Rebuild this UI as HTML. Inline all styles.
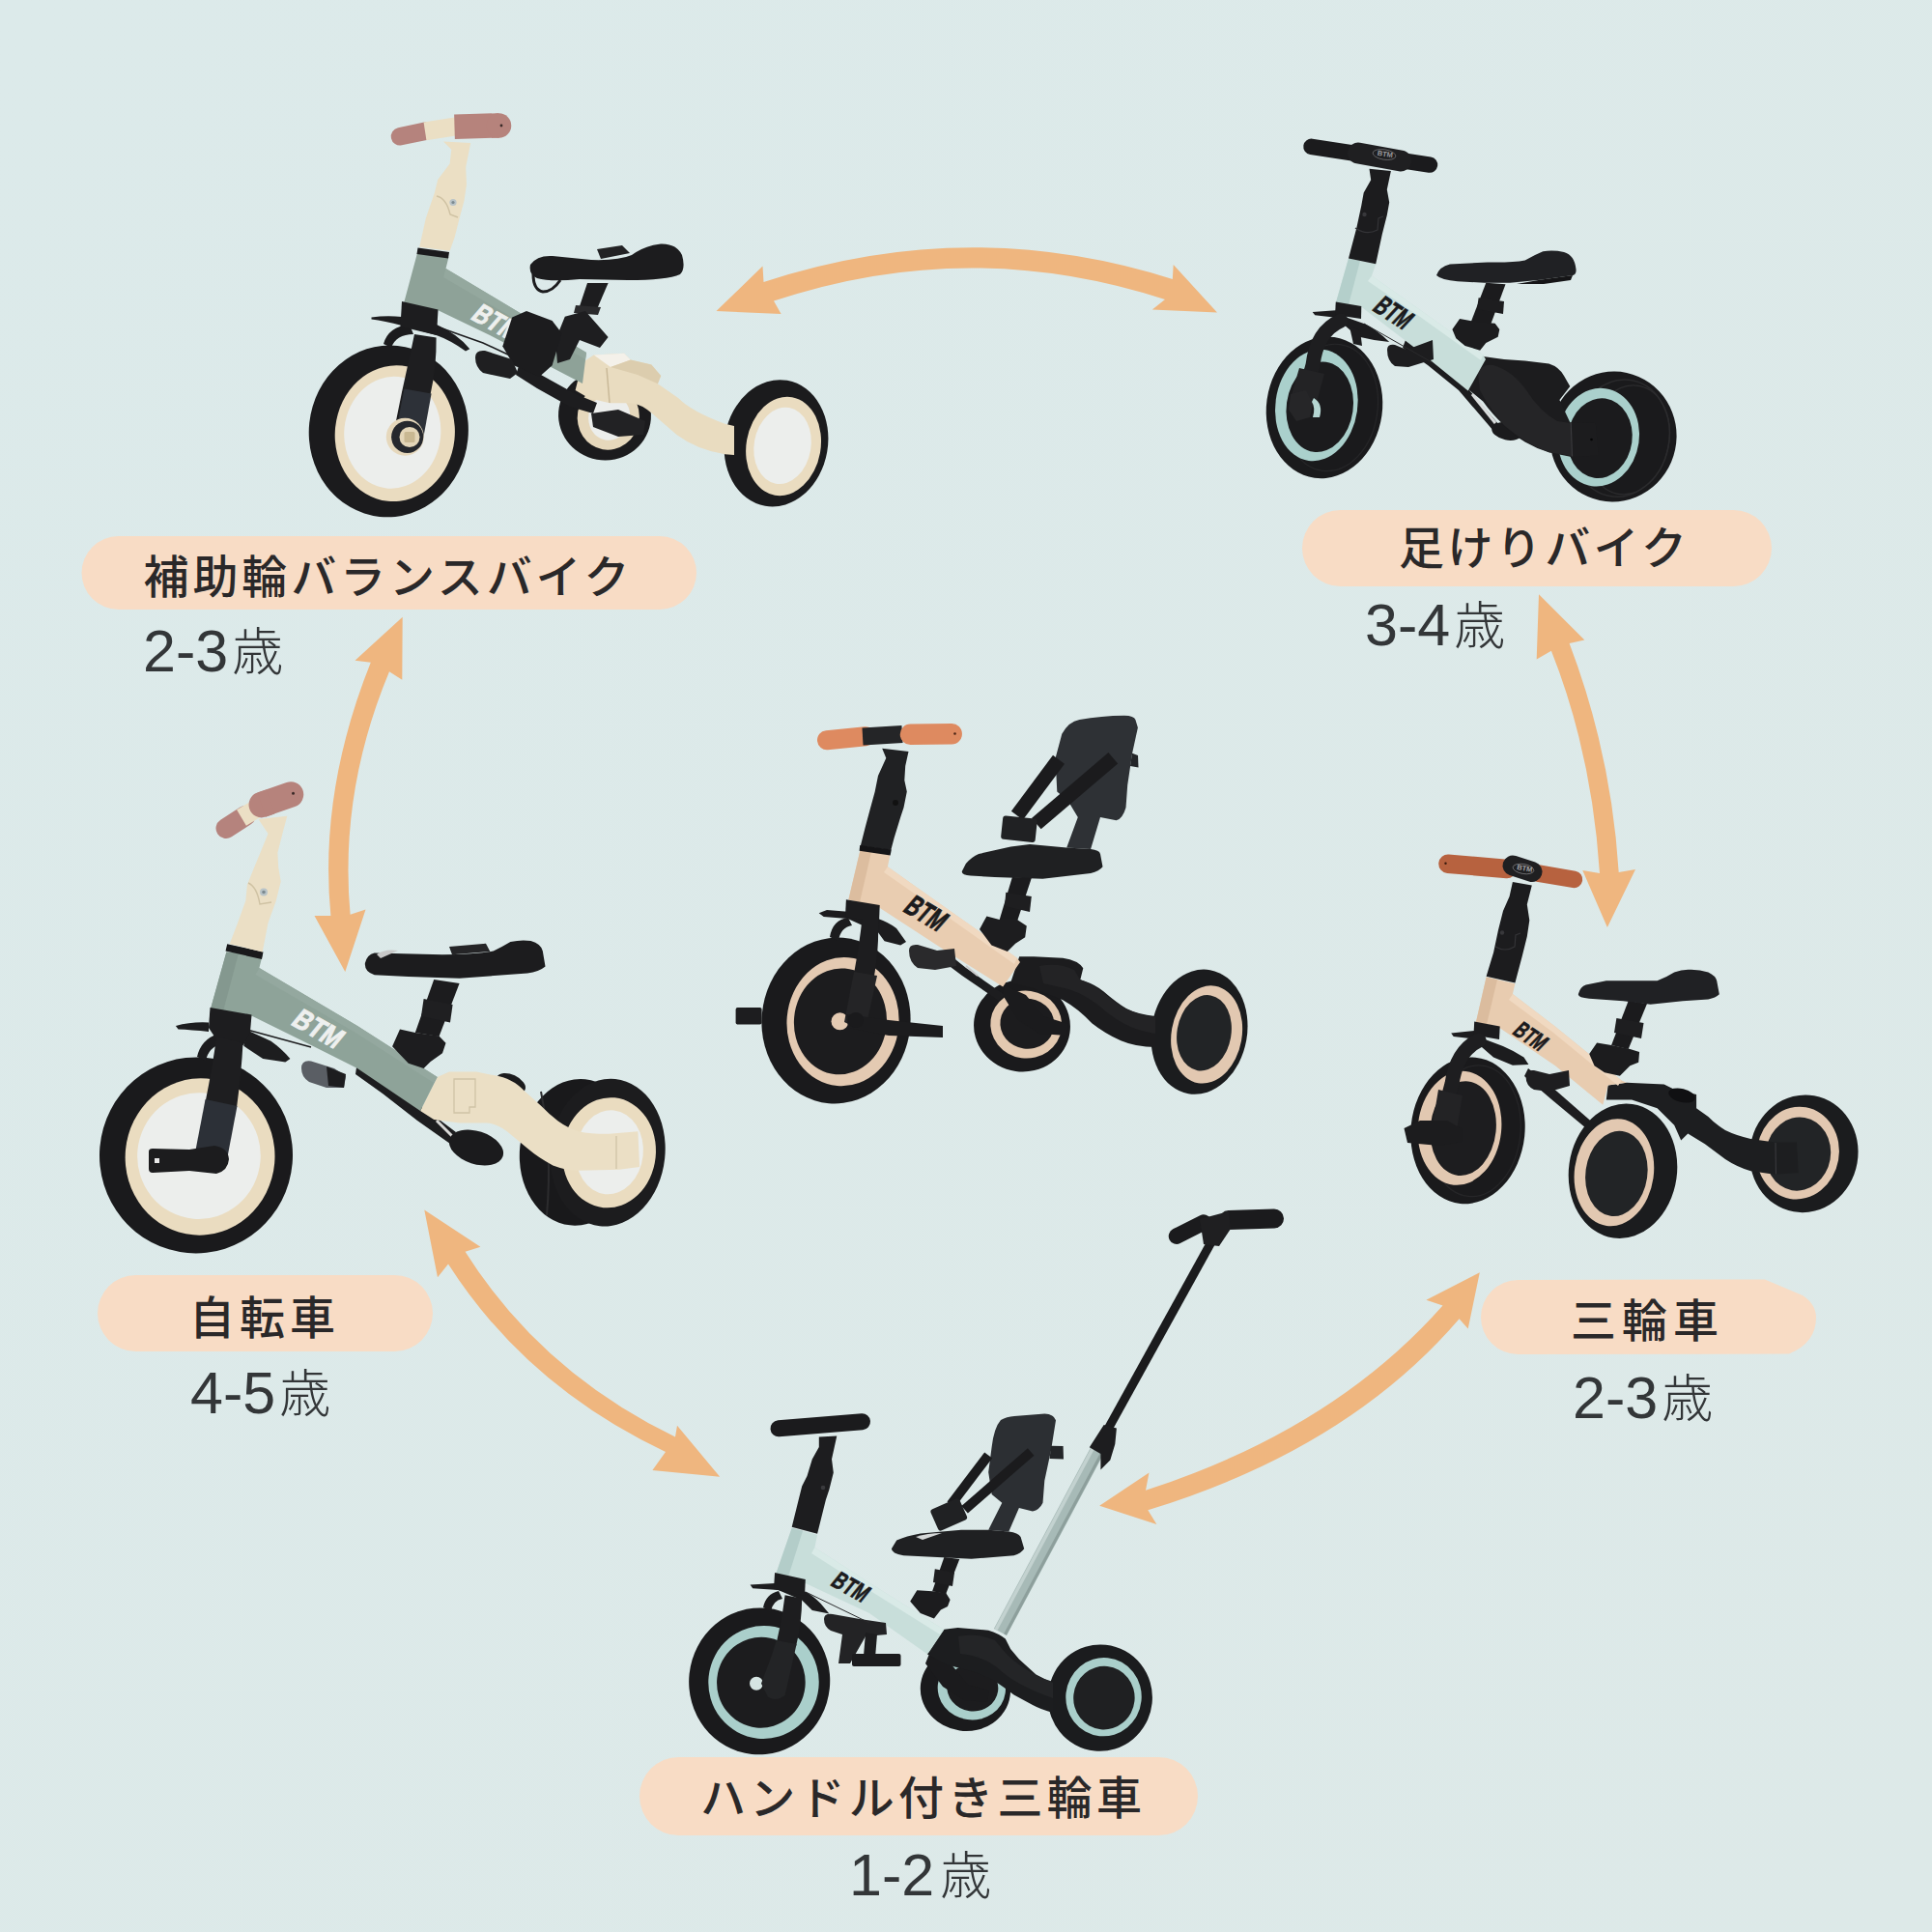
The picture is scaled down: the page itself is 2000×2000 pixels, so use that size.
<!DOCTYPE html>
<html lang="ja">
<head>
<meta charset="utf-8">
<title>BTM 5in1 三輪車</title>
<style>
html,body{margin:0;padding:0;background:#dce9e9;}
body{width:2000px;height:2000px;overflow:hidden;position:relative;font-family:"Liberation Sans","Noto Sans CJK JP",sans-serif;}
svg{position:absolute;left:0;top:0;display:block;}
.lbl{font-family:"Liberation Sans","Noto Sans CJK JP",sans-serif;font-weight:500;font-size:47px;fill:#2a2829;}
.age{font-family:"Liberation Sans","Noto Sans CJK JP",sans-serif;font-weight:300;font-size:53px;fill:#333638;}
.num{font-family:"Liberation Sans",sans-serif;font-weight:400;font-size:61px;}
.btm{font-family:"Liberation Sans",sans-serif;font-weight:700;}
</style>
</head>
<body>
<svg xmlns="http://www.w3.org/2000/svg" width="2000" height="2000" viewBox="0 0 2000 2000">
<defs>
<linearGradient id="bg" x1="0" y1="0" x2="1" y2="1">
<stop offset="0" stop-color="#dceaea"/><stop offset="1" stop-color="#dde9e8"/>
</linearGradient>
</defs>
<rect width="2000" height="2000" fill="url(#bg)"/>
<!-- ARROWS -->
<g id="arrows" fill="#efb67f">
<path d="M741.5 322 L789.5 275.5 L790.5 292 Q1003 222 1213.8 289 L1214.7 274 L1260 323.6 L1192.8 320.6 L1206 310 Q1003 244 801 311.6 L808.6 325 Z"/>
<path d="M416.7 638.7 L367.5 683.7 L383.8 685.8 Q330 820 342.4 947.9 L325.5 947.9 L357.3 1006 L378.5 941.5 L362.6 946.8 Q351 820 403 695.3 L416.3 703.8 Z"/>
<path d="M1593 615.3 L1640.3 662.5 L1624.6 665.9 Q1668 780 1675.7 902.9 L1693 900 L1663.9 960 L1638.3 900.9 L1656 903.9 Q1648 780 1605.9 673.8 L1590.7 682.6 Z"/>
<path d="M439.3 1252.5 L497.4 1290.8 L481.6 1295.7 Q560 1420 699 1487.5 L701 1475.7 L745.2 1528.8 L675.4 1522 L689 1503 Q545 1435 464 1308.5 L453 1322.3 Z"/>
<path d="M1531.8 1317.3 L1476.4 1345.8 L1493.5 1351.5 Q1380 1480 1186 1542.8 L1189.5 1524.6 L1138.2 1558.7 L1197.4 1578 L1188.3 1563.3 Q1395 1500 1510.6 1365.2 L1519.7 1375.4 Z"/>
</g>

<!-- LABEL PILLS -->
<g id="pills" fill="#f8dcc5">
<rect x="84.5" y="555" width="636.5" height="76" rx="38"/>
<rect x="1348" y="528" width="486" height="79" rx="39.5"/>
<rect x="101" y="1320" width="347" height="79" rx="39.5"/>
<path d="M1571.5 1325 L1827 1324.5 L1866 1341 Q1880 1350 1880 1364 Q1880 1390 1852 1401.5 L1571.5 1402 A38.5 38.5 0 0 1 1571.5 1325 Z"/>
<rect x="662" y="1819" width="578" height="81" rx="40.5"/>
</g>
<g id="labels">
<text class="lbl" x="148.5" y="613.5" textLength="503" lengthAdjust="spacing">補助輪バランスバイク</text>
<text class="age" x="148" y="694.5"><tspan class="num">2-3</tspan><tspan dx="4" dy="-1">歳</tspan></text>
<text class="lbl" x="1448" y="583.5" textLength="298" lengthAdjust="spacing">足けりバイク</text>
<text class="age" x="1413" y="667.5"><tspan class="num">3-4</tspan><tspan dx="4" dy="-1">歳</tspan></text>
<text class="lbl" x="196" y="1381" textLength="151" lengthAdjust="spacing">自転車</text>
<text class="age" x="197" y="1463"><tspan class="num">4-5</tspan><tspan dx="4" dy="-1">歳</tspan></text>
<text class="lbl" x="1626" y="1384" textLength="153" lengthAdjust="spacing">三輪車</text>
<text class="age" x="1628" y="1467.5"><tspan class="num">2-3</tspan><tspan dx="4" dy="-1">歳</tspan></text>
<text class="lbl" x="725" y="1878" textLength="457" lengthAdjust="spacing">ハンドル付き三輪車</text>
<text class="age" x="879" y="1961.5"><tspan class="num">1-2</tspan><tspan dx="6" dy="-1">歳</tspan></text>
</g>

<!-- BIKE 1 : green/cream with training wheels -->
<g id="bike1">
<!-- middle (far) rear wheel -->
<g transform="rotate(10 626 430)">
<ellipse cx="626" cy="430" rx="48" ry="46.5" fill="#1b1b1d"/>
<ellipse cx="630" cy="431" rx="32" ry="34" fill="#e6d8bc"/>
<ellipse cx="631" cy="431" rx="21.5" ry="24" fill="#eceeec"/>
</g>
<!-- rear right wheel -->
<g transform="rotate(10 803.5 458.8)">
<ellipse cx="803.5" cy="458.8" rx="53.5" ry="66" fill="#1b1b1d"/>
<ellipse cx="811.5" cy="460.6" rx="38.5" ry="51.5" fill="#eadcc0"/>
<ellipse cx="810.4" cy="460.2" rx="29.4" ry="40" fill="#eceeec"/>
</g>
<!-- under-frame bar & far pedal -->
<path d="M538 376 L560 388 L596 408 L618 417 L614 428 L590 421 L556 402 L534 388 Z" fill="#1d1d1f"/>
<path d="M612 428 L640 424 L668 436 L666 450 L640 452 L614 442 Z" fill="#222224"/>
<!-- cream rear junction + arm -->
<path d="M604.7 374.1 L614.7 367.5 L646.1 365.8 L652.8 372.4 L674.3 377.4 L684.2 389 L680.9 397.3 L702.4 412.2 Q716 426 750.5 438.7 L760 441 L760 471 L750.5 470.2 Q722 466 700.8 450.3 L675.9 428.8 Q664 418 652.8 417.2 L631.2 417.2 L609.7 412.2 L595.6 403.9 L599.8 387.3 Z" fill="#e9dcc0"/>
<path d="M614.7 367.5 L646.1 365.8 L652.8 372.4 L632 380 Z" fill="#f4f1ea"/>
<path d="M632 380 L652.8 372.4 L674.3 377.4 L684.2 389 L680.9 397.3 L660 388 Z" fill="#dccdae"/>
<path d="M628 381 L631 417" stroke="#c9b998" stroke-width="1.5" fill="none"/>
<!-- main frame -->
<path d="M432 262 L464.5 266 L461.5 278 L540 325 L607 365 L603 397 L507 347 L453 321 L418 314 Z" fill="#8ea298"/>
<path d="M461.5 278 L540 325 L607 365 L606 372 L538 333 L459 287 Z" fill="#94a89e"/>
<path d="M432.5 256.5 L465 261 L464 267.5 L431.5 263 Z" fill="#1b1b1d"/>
<text class="btm" transform="translate(486 329.5) rotate(29) skewX(-12)" font-size="29" fill="#eef0ee" stroke="#eef0ee" stroke-width=".9" textLength="50" lengthAdjust="spacingAndGlyphs">BTM</text>
<!-- stem (cream) -->
<path d="M459 146.4 L487.2 148 L482.2 172.9 L483 191 L480.5 207.7 L475.6 225.9 L470.6 245.7 L465.6 259.8 L434.2 255.7 L440.8 225.9 L449.9 199.4 L453.2 186.1 L465.6 169.6 L467.3 154.7 Z" fill="#ebdfc4"/>
<circle cx="469" cy="209.5" r="3.6" fill="#b9c4c8"/>
<circle cx="469" cy="209.5" r="1.6" fill="#7c8a90"/>
<path d="M452 203 Q462 205 466 222 L474 225" stroke="#cfc2a3" stroke-width="1.4" fill="none"/>
<!-- handlebar -->
<path d="M414 141.3 L441 135.6" stroke="#b5837d" stroke-width="18.5" stroke-linecap="round" fill="none"/>
<path d="M440 135.8 L472 130.9" stroke="#ebdfc4" stroke-width="19" fill="none"/>
<path d="M470.5 131.2 L516.5 129.9" stroke="#b6837c" stroke-width="25.5" fill="none"/>
<circle cx="516.5" cy="129.9" r="12.75" fill="#b6837c"/>
<circle cx="519" cy="130" r="1.4" fill="#3a2a28"/>
<!-- front wheel -->
<g transform="rotate(6 402.3 446.4)">
<ellipse cx="402.3" cy="446.4" rx="82.5" ry="89" fill="#1b1b1d"/>
<ellipse cx="409" cy="448" rx="62" ry="70.5" fill="#eadcc0"/>
<ellipse cx="406.4" cy="447.3" rx="50" ry="58" fill="#eceeec"/>
</g>
<!-- fork back blade -->
<path d="M397 356 Q402 338 424 336 L428 346 Q410 346 405 360 Z" fill="#1b1b1d"/>
<!-- fender -->
<path d="M384.5 328.6 Q400 326 416 328 L452 336 Q474 346 486.3 361.2 L482 363.5 Q466 352 451.6 347 L416 337 Q398 332 384.5 330.5 Z" fill="#1d1d1f"/>
<!-- cable -->
<path d="M452 338 L500 355 L528 368" stroke="#1d1d1f" stroke-width="1.6" fill="none"/>
<!-- fork crown -->
<path d="M416 312 L453.5 320.5 L452 347 L414.5 338 Z" fill="#1d1d1f"/>
<!-- fork front blade -->
<path d="M429 346 L451.6 349.6 Q452 380 446 405.9 L438.3 445.6 L408 445.6 L416 405.9 Q424 370 429 346 Z" fill="#1e1e20"/>
<path d="M418.4 402.6 L446.6 407.5 L438.5 452 L409 452 Z" fill="#2d3138"/>
<!-- hub -->
<circle cx="419.3" cy="452.3" r="19.5" fill="#e6d8bc"/>
<circle cx="421.7" cy="452.3" r="16.6" fill="#26282d"/>
<circle cx="424" cy="452.5" r="10.5" fill="#e4d6b8"/>
<rect x="418.5" y="447" width="11" height="11" rx="1.5" fill="#c9b892"/>
<!-- seat post & clamp -->
<path d="M608 293 L629.6 293 L616.3 324 L598 323 Z" fill="#1d1d1f"/>
<path d="M596 316 L622 318 L619 326 L594 324 Z" fill="#2a2a2c"/>
<path d="M584.8 327.7 L606 322 L629.6 349 L621 360 L600 352 L590 372 L577 376 L575 352 Z" fill="#1e1e20"/>
<!-- folded pedal -->
<path d="M530.2 328.6 L545 322 L571.6 331.9 L581.6 345 L571.6 378.3 L558.4 389.9 L531.9 378.3 L520.3 358.4 Z" fill="#1c1c1e"/>
<path d="M492 370 Q492 362 502 363 L530 372 L536 386 L528 392 L500 386 Q492 380 492 370 Z" fill="#1f1f21"/>
<!-- saddle -->
<path d="M549 274 Q556 264 572 265 L612 269 Q640 270 654 264 Q668 254 684 252.5 Q700 252 706 264 Q710 278 704 284 Q690 290 650 290 L600 289 Q570 292 556 288 Q547 284 549 274 Z" fill="#1c1c1e"/>
<path d="M552 284 Q552 300 562 302 Q572 302 580 290" stroke="#1c1c1e" stroke-width="3" fill="none"/>
<path d="M618 258 L644 254 L652 262 L622 268 Z" fill="#222224"/>
</g>

<!-- BIKE 2 : black/mint balance bike -->
<g id="bike2">
<!-- rear wheel -->
<g transform="rotate(12 1670 452)">
<ellipse cx="1670" cy="452" rx="65.5" ry="67.5" fill="#1a1a1c"/>
<ellipse cx="1678" cy="452" rx="50" ry="61" fill="none" stroke="#2a2a2c" stroke-width="1.5"/>
<ellipse cx="1686" cy="452" rx="42" ry="57" fill="none" stroke="#2c2c2e" stroke-width="1.2"/>
</g>
<g transform="rotate(8 1655 453)">
<ellipse cx="1654.8" cy="452.7" rx="42" ry="51" fill="#aad0cc"/>
<ellipse cx="1656.3" cy="453.5" rx="33.4" ry="41.5" fill="#1b1b1d"/>
</g>
<!-- under rod + foot -->
<path d="M1455 352 L1482 372 L1516 398 L1552 440 L1546 446 L1510 404 L1478 378 L1452 360 Z" fill="#1c1c1e"/>
<path d="M1524 408 L1548 438" stroke="#d9dcdc" stroke-width="3" fill="none"/>
<ellipse cx="1560" cy="446.5" rx="16" ry="9" transform="rotate(12 1560 446.5)" fill="#1b1b1d"/>
<!-- rear arm / junction -->
<path d="M1521.2 372 L1535.2 368.9 L1557 372 L1578.7 373.5 L1603.5 376.6 Q1614 380 1619 389.1 L1625.3 400 L1614.4 413.9 L1625.3 437.2 L1651.7 438 L1654.8 471.4 L1626.8 472.9 L1603.5 468.3 Q1590 464 1578.7 457.4 Q1566 450 1557 440.3 Q1544 428 1535.2 415.5 L1518.1 401.5 Z" fill="#1c1c1e"/>
<path d="M1530 386 Q1534 376 1546 378 Q1566 384 1580 404 Q1594 426 1612 436 L1626 438 L1627 472 L1603.5 468.3 Q1580 460 1557 440.3 Q1540 420 1532 404 Z" fill="#252527"/>
<path d="M1626.2 437.5 L1627.5 472.6" stroke="#3a3a3d" stroke-width="1.2" fill="none"/>
<circle cx="1647.5" cy="455" r="1.3" fill="#050505"/>
<!-- frame -->
<path d="M1396 267.4 L1424.2 273.2 L1420 285.6 L1470 320.7 L1535.2 367.3 L1538 372 L1519.7 404.6 L1470 364.2 L1408.4 317.1 L1382.8 313.8 Z" fill="#c8deda"/>
<path d="M1396 267.4 L1408 270 L1396 315.5 L1382.8 313.8 Z" fill="#b4cfcb"/>
<path d="M1420 285.6 L1470 320.7 L1535.2 367.3 L1533 373 L1468 326.5 L1416 291 Z" fill="#d9eae7"/>
<text class="btm" transform="translate(1419.5 320.5) rotate(33) skewX(-10)" font-size="29" fill="#1b1b1d" stroke="#1b1b1d" stroke-width=".8" textLength="39" lengthAdjust="spacingAndGlyphs">BTM</text>
<!-- pedal mount -->
<path d="M1436 362 Q1436 356 1444 357 L1456 362 L1483 352 L1484 372 L1458 380 L1444 379 Q1436 374 1436 362 Z" fill="#1d1d1f"/>
<path d="M1412 335 L1482 375" stroke="#2a2a2c" stroke-width="1" fill="none"/>
<!-- front wheel -->
<g transform="rotate(8 1371 421.9)">
<ellipse cx="1371" cy="421.9" rx="60" ry="73.5" fill="#1a1a1c"/>
<ellipse cx="1378" cy="421" rx="48" ry="66" fill="none" stroke="#262628" stroke-width="1.2"/>
<ellipse cx="1362.6" cy="420.7" rx="42.5" ry="58" fill="#aad0cc"/>
<ellipse cx="1366.2" cy="421.9" rx="34.5" ry="47" fill="#1b1b1d"/>
</g>
<!-- fender -->
<path d="M1358.7 322.9 L1382.8 321.2 L1389.4 327 L1412.6 335.3 Q1426 342 1438.2 353.9 L1422.5 351.9 L1405.9 348.6 L1396 340.3 L1382.8 328.7 L1361.2 326.2 Z" fill="#1c1c1e"/>
<path d="M1382.8 312.5 L1409.3 317 L1409 330 L1382 326 Z" fill="#1c1c1e"/>
<!-- fork -->
<path d="M1397 338 L1408 342 L1410 358 L1401 356 Z" fill="#1d1d1f"/>
<path d="M1388 332 Q1363 343 1359 378 L1351 408" stroke="#1e1e20" stroke-width="15" fill="none" stroke-linecap="round"/>
<path d="M1345 381 L1371 387 L1362 420 L1336 412 Z" fill="#232325"/>
<path d="M1336 408 L1352 404 L1359 418 L1356 432 L1342 436 L1334 424 Z" fill="#262628"/>
<path d="M1360 412 Q1370 418 1366 432 L1359 432 Q1362 422 1358 416 Z" fill="#b5d6d2"/>
<!-- stem -->
<path d="M1417.5 174.7 L1439.9 177.1 L1435.8 196.2 L1438.2 209.4 L1435.8 222.7 L1430.8 242.6 L1424.2 273.2 L1396 267.4 L1404.3 235.9 L1409.3 212.8 L1411.7 199.5 L1419.2 186.3 Z" fill="#1c1c1e"/>
<path d="M1403 236 Q1414 244 1426 238 L1427 226 L1432 224" stroke="#343437" stroke-width="1.2" fill="none"/>
<circle cx="1412.5" cy="222" r="2.2" fill="#38383b"/>
<!-- handlebar -->
<path d="M1357.5 151.8 L1480 170.6" stroke="#1b1b1d" stroke-width="16.5" stroke-linecap="round" fill="none"/>
<path d="M1406 158.5 L1450 166.5" stroke="#1f1f21" stroke-width="22" stroke-linecap="round" fill="none"/>
<ellipse cx="1433" cy="160" rx="12" ry="5.2" transform="rotate(9 1433 160)" fill="none" stroke="#6d6d70" stroke-width=".8"/>
<text class="btm" transform="translate(1425.5 160.8) rotate(9)" font-size="7.5" fill="#9a9a9d">BTM</text>
<!-- seat post, clamp -->
<path d="M1538.3 292.8 L1558.5 294.3 L1543 336.3 L1522.8 333.2 Z" fill="#1b1b1d"/>
<path d="M1530.6 308.3 L1557 312 L1556 325 L1529 320 Z" fill="#1d1d1f"/>
<path d="M1503.4 340.9 L1511.1 330.1 L1529 333.2 L1547.6 334.7 L1552.3 340.9 L1550.7 348.7 L1538.3 354.9 L1532.1 362.7 L1516.6 358 L1507.3 350.2 Z" fill="#1c1c1e"/>
<!-- saddle -->
<path d="M1487 285 Q1490 276 1501 273.4 L1540 271.5 Q1566 272 1578.7 269.5 Q1588 264 1597.3 260.2 Q1608 258.5 1619 261 Q1630 264 1631.5 278.8 Q1632 284 1628.4 285 L1594.2 289.7 L1563.2 292.8 L1536.8 292.8 L1508.8 291.2 Q1492 290 1487 285 Z" fill="#202124"/>
<path d="M1594 289.7 L1628 285 L1626 290 L1598 294 L1570 294 Z" fill="#151517"/>
</g>

<!-- BIKE 3 : peach/black trike with backrest -->
<g id="bike3">
<!-- middle rear wheel -->
<g transform="rotate(8 1058 1062)">
<ellipse cx="1058" cy="1062" rx="50" ry="47.5" fill="#1a1a1c"/>
<ellipse cx="1062" cy="1060" rx="37" ry="35" fill="#e3c9b0"/>
<ellipse cx="1063" cy="1059" rx="28" ry="26" fill="#1c1c1e"/>
</g>
<!-- right rear wheel -->
<g transform="rotate(10 1241.5 1068.2)">
<ellipse cx="1241.5" cy="1068.2" rx="49.5" ry="65" fill="#1b1c1e"/>
<ellipse cx="1249.5" cy="1069.6" rx="36.5" ry="51" fill="#e2c8b1"/>
<ellipse cx="1246.6" cy="1068.4" rx="28" ry="39.5" fill="#222426"/>
</g>
<!-- rear pedal -->
<path d="M1040 1020 L1062 1030 L1080 1052 L1106 1060 L1104 1072 L1076 1070 L1054 1056 L1038 1030 Z" fill="#1b1b1d"/>
<!-- rear arm -->
<path d="M1055.2 990.2 L1070.2 990.2 L1100.3 991.7 Q1116 994 1121.3 1002.2 L1118.3 1014.2 Q1132 1018 1142.3 1026.2 Q1156 1038 1166.3 1044.2 Q1178 1050 1196 1052 L1196 1084 Q1176 1084 1160.3 1077.3 Q1144 1070 1130.3 1059.2 Q1116 1044 1100.3 1035.2 L1070.2 1023.2 L1046.2 1017.2 Z" fill="#1c1c1e"/>
<path d="M1076 1000 Q1096 996 1112 1004 L1118 1014 Q1134 1020 1150 1034 Q1170 1050 1196 1053 L1196 1070 Q1168 1066 1146 1048 Q1126 1030 1106 1024 L1080 1018 Z" fill="#232325"/>
<!-- under-frame rod -->
<path d="M985 990 L1000 1002 L1040 1030 L1034 1036 L996 1010 L980 998 Z" fill="#1d1d1f"/>
<path d="M1000 1000 L1012 1010" stroke="#c8c8c8" stroke-width="2" fill="none"/>
<!-- frame -->
<path d="M890.5 879.9 L921.4 884.9 L918.9 897.3 L980 940.4 L1052.9 991.7 L1056 996 L1038.2 1021.5 L980 985 L909 938.7 L878.4 931.2 Z" fill="#e9cdb1"/>
<path d="M890.5 879.9 L902 881.8 L890 934 L878.4 931.2 Z" fill="#dcbd9f"/>
<path d="M918.9 897.3 L980 940.4 L1052.9 991.7 L1050 998 L978 947 L915 903 Z" fill="#f0d9c1"/>
<text class="btm" transform="translate(933.5 942.5) rotate(31) skewX(-10)" font-size="31" fill="#1b1b1d" stroke="#1b1b1d" stroke-width=".9" textLength="43" lengthAdjust="spacingAndGlyphs">BTM</text>
<!-- pedal mount under frame -->
<path d="M941 984 Q941 977 950 978 L970 984 L988 982 L990 1000 L968 1004 L950 1002 Q941 996 941 984 Z" fill="#2a2a2c"/>
<!-- front wheel -->
<g transform="rotate(5 865.5 1056.5)">
<ellipse cx="865.5" cy="1056.5" rx="77" ry="86" fill="#1a1a1c"/>
<ellipse cx="872.6" cy="1057" rx="58" ry="66.7" fill="#e4cab2"/>
<ellipse cx="870" cy="1057" rx="48" ry="55" fill="#1c1c1e"/>
</g>
<circle cx="869.5" cy="1057.3" r="9" fill="#e4cab2"/>
<!-- fender -->
<path d="M847.7 945.3 L856 942 L877.5 943.7 L909 951.1 Q920 955 928 961 L938 975.1 L932.2 978.4 L915.6 974.3 L909 965.2 L877.5 951 L852.7 949 Z" fill="#1c1c1e"/>
<path d="M875.9 931.2 L910.7 937 L910 955 L875 949 Z" fill="#1c1c1e"/>
<!-- fork -->
<path d="M859 970 Q862 952 878 950 L882 958 Q870 960 868 974 Z" fill="#1c1c1e"/>
<path d="M892.4 951.9 L909 951.9 Q910 980 905.7 1006 L898 1050 L876 1056 L884 1008 Q890 975 892.4 951.9 Z" fill="#1d1d1f"/>
<path d="M884 1006 L908 1010 L898 1056 Q888 1066 874 1058 Z" fill="#242426"/>
<!-- cranks & pedals -->
<path d="M876 1050 L920 1056 L976 1062 L976 1074 L920 1072 L878 1064 Z" fill="#1c1c1e"/>
<rect x="761.6" y="1043" width="27" height="17.5" rx="2" fill="#1d1d1f"/>
<circle cx="886" cy="1056" r="8" fill="#1a1a1c"/>
<!-- stem -->
<path d="M913.2 774.7 L940.5 778 L937.2 792.9 L936.3 807.8 L938.8 819.4 L935.5 836 L932.2 845.9 L925.6 867.5 L922.3 879.9 L890.8 875.8 L895.8 855.9 L900.7 837.7 L905.7 819.4 L909 802.9 L917.3 784.7 Z" fill="#202123"/>
<path d="M890.2 875 L922.8 879.4 L921.6 885.4 L889.6 880.8 Z" fill="#141416"/>
<circle cx="927" cy="831" r="3" fill="#111"/>
<!-- handlebar -->
<path d="M856 766.2 L896 762.2" stroke="#de8a60" stroke-width="20" stroke-linecap="round" fill="none"/>
<path d="M893 762.4 L934 759.9" stroke="#242527" stroke-width="18" fill="none"/>
<path d="M942.5 760.3 L985.2 759.8" stroke="#de8a60" stroke-width="21.5" stroke-linecap="round" fill="none"/>
<circle cx="988.5" cy="759.5" r="1.3" fill="#4a2414"/>
<!-- backrest -->
<path d="M1117.5 744.9 Q1140 741 1163.9 740.8 Q1174 741 1175.4 744.9 L1177.9 753.2 L1172.1 779.7 L1167.2 812.8 L1165.5 836 Q1162 848 1155.6 849.3 L1139 845.9 L1129.1 879.1 L1104.2 877.4 L1115.8 845.9 L1105.9 829.4 L1094.3 819.4 L1092.6 784.7 L1099.3 759.8 Q1106 747 1117.5 744.9 Z" fill="#2e3135"/>
<path d="M1172 779.7 L1178 782 L1178.5 794.6 L1170 793 Z" fill="#232528"/>
<path d="M1096 786.3 L1052.9 844.3" stroke="#1b1b1d" stroke-width="15" fill="none"/>
<path d="M1152.3 784.7 L1072.8 852.6" stroke="#1b1b1d" stroke-width="15" fill="none"/>
<rect x="1037.1" y="846" width="35.7" height="24.5" rx="3" transform="rotate(6 1055 858)" fill="#202123"/>
<!-- seat base -->
<path d="M995.7 902.3 L999.9 894 Q1006 887 1013.1 884 L1046.3 876.6 L1066.1 874.1 L1104.2 877.4 L1129.1 879.1 Q1138 880 1139 884 L1141.5 897.3 Q1138 902 1129.1 903.9 L1079.4 909.7 L1029.7 908.1 L1004.8 906.4 Q996 906 995.7 902.3 Z" fill="#1f2022"/>
<!-- seat post & clamp -->
<path d="M1047.9 908 L1067.8 909 L1052.9 954 L1034.7 952 Z" fill="#1b1b1d"/>
<path d="M1041.3 923.8 L1067.8 928 L1066 944 L1040 938 Z" fill="#1e1e20"/>
<path d="M1014 961.9 L1021.4 948.6 L1034.7 952 L1052.9 952 L1062.8 958.6 L1061.2 970.2 L1051.2 976.8 L1042.9 985.1 L1026.4 978.4 Z" fill="#1d1d1f"/>
</g>

<!-- BIKE 4 : green/cream bicycle -->
<g id="bike4">
<!-- rear wheel (double) -->
<g transform="rotate(6 600 1193)">
<ellipse cx="598" cy="1193" rx="60" ry="76" fill="#19191b"/>
</g>
<g transform="rotate(6 630 1193)">
<ellipse cx="629" cy="1193.2" rx="59.5" ry="76.5" fill="#1c1c1e"/>
<ellipse cx="630.5" cy="1193.2" rx="48.4" ry="57.2" fill="#eadcc0"/>
<ellipse cx="631" cy="1192.7" rx="34.8" ry="43.6" fill="#eceeec"/>
</g>
<path d="M560 1130 Q572 1190 566 1258" stroke="#2c2c2e" stroke-width="2" fill="none"/>
<!-- under rod & folded pedal -->
<path d="M370 1098 L400 1118 L440 1148 L472 1172 L466 1184 L432 1160 L396 1132 L368 1112 Z" fill="#1d1d1f"/>
<path d="M452 1160 L470 1178" stroke="#d8d8d6" stroke-width="3" fill="none"/>
<ellipse cx="493" cy="1188" rx="29" ry="17" transform="rotate(18 493 1188)" fill="#1b1b1d"/>
<ellipse cx="529" cy="1121.5" rx="16" ry="9" transform="rotate(25 529 1121.5)" fill="#1b1b1d"/>
<!-- cream junction & arm -->
<path d="M452.7 1114.9 L465 1109.6 L493.2 1109.6 L510.8 1113.1 Q522 1115 528.4 1118.4 Q536 1122 542.5 1129 L560.1 1144.8 Q568 1153 577.7 1160.6 Q588 1168 598.8 1171.2 Q612 1174 630.5 1173.8 L660.4 1171.2 L662.1 1208.1 L641 1210.8 L598.8 1211.7 Q584 1211 572.4 1206.4 Q558 1199 546 1188.8 L524.9 1171.2 Q514 1163 503.8 1162.4 L475.6 1162.4 L449.2 1158.9 L435.1 1150.1 Z" fill="#ebdfc5"/>
<path d="M470 1117 L492 1117 L492 1146 L486 1146 L486 1152 L470 1152 Z" fill="none" stroke="#cfc3a6" stroke-width="1.3"/>
<path d="M638 1176 L638 1210" stroke="#cfc3a6" stroke-width="1.3" fill="none"/>
<!-- frame -->
<path d="M234.4 985.4 L271.7 988.8 L268.4 1002 L370 1062 L452.7 1114.9 L435.1 1150.1 L370 1106.1 L322.2 1082 L260.9 1051.7 L217.8 1045.1 Z" fill="#8ea399"/>
<path d="M234.4 985.4 L247 986.8 L231 1047 L217.8 1045.1 Z" fill="#84988f"/>
<path d="M268.4 1002 L370 1062 L452.7 1114.9 L449 1121 L368 1069 L264.5 1009 Z" fill="#94a89f"/>
<path d="M235.2 977.2 L272.5 985.4 L271 993 L233.5 984.5 Z" fill="#19191b"/>
<text class="btm" transform="translate(300 1060) rotate(29.5) skewX(-10)" font-size="30" fill="#eef0ef" stroke="#eef0ef" stroke-width="1" textLength="53" lengthAdjust="spacingAndGlyphs">BTM</text>
<!-- pedal mount under frame -->
<path d="M312 1106 Q312 1097 322 1098.5 L346 1106 L358 1114 L356 1126 L338 1126 L320 1120 Q312 1115 312 1106 Z" fill="#5a5e64"/>
<path d="M338 1104 L358 1112 L356 1126 L340 1124 Z" fill="#1d1d1f"/>
<path d="M256 1066 L322 1084" stroke="#1d1d1f" stroke-width="1.6" fill="none"/>
<!-- front wheel -->
<g transform="rotate(5 203 1196)">
<ellipse cx="203" cy="1195.9" rx="100" ry="101.5" fill="#1a1a1c"/>
<ellipse cx="207.2" cy="1197.1" rx="77.4" ry="81.2" fill="#eadcc0"/>
<ellipse cx="206" cy="1196.3" rx="63.8" ry="65.4" fill="#eceeec"/>
</g>
<!-- fork back blade -->
<path d="M204 1094 Q208 1076 226 1070 L230 1080 Q216 1084 213 1098 Z" fill="#1c1c1e"/>
<!-- fender -->
<path d="M181.9 1062.1 Q198 1057.5 216 1058.5 L216 1068 Q198 1066 184.5 1065.5 Z" fill="#1d1d1f"/>
<path d="M255.6 1066.3 L280.5 1077.8 Q292 1086 300.4 1096.1 L295.4 1099.4 Q284 1098 272.2 1096.1 L252.3 1082.8 Z" fill="#1d1d1f"/>
<!-- crown -->
<path d="M217.5 1043 L260.5 1050.5 L259 1068 L252 1082 L224 1076 L216 1064 Z" fill="#1d1d1f"/>
<!-- fork front blade -->
<path d="M224.2 1072.9 L251.5 1079.5 Q250 1110 244.9 1147.4 L212.6 1140.8 Q220 1104 224.2 1072.9 Z" fill="#1e1e20"/>
<path d="M212.6 1138 L245.5 1145 L235.8 1196 L202.6 1190 Z" fill="#2c3037"/>
<!-- crank & pedal -->
<path d="M154 1192 Q154 1189 158 1189 L196 1190 L222 1186 Q236 1188 237 1200 Q236 1212 224 1215 L196 1212 L158 1214 Q154 1214 154 1210 Z" fill="#1c1c1e"/>
<rect x="160" y="1199" width="5" height="5" fill="#e8e8e8"/>
<!-- stem -->
<path d="M267.5 848 L297.3 844.7 L292.4 862.9 L287.4 882.8 L288.2 897.7 L290.7 912.6 L285.8 932.4 L277.5 955.6 L271.7 985.4 L237.7 977.2 L246 955.6 L254.3 932.4 L255.9 915.9 L262.6 899.3 L270.8 879.4 L277.5 862.9 Z" fill="#ebdfc5"/>
<circle cx="273" cy="923.5" r="4" fill="#b9c4c8"/>
<circle cx="273" cy="923.5" r="1.8" fill="#7c8a90"/>
<path d="M257 914 Q266 918 269 936 L281 934" stroke="#cfc2a3" stroke-width="1.4" fill="none"/>
<!-- handlebar -->
<path d="M234 857.5 L254 844.5" stroke="#b5837d" stroke-width="21" stroke-linecap="round" fill="none"/>
<path d="M250 846.5 L274 832" stroke="#ebdfc5" stroke-width="19" fill="none"/>
<path d="M270.8 833.1 L301 822.5" stroke="#b6837c" stroke-width="26.5" stroke-linecap="round" fill="none"/>
<path d="M270.8 833.1 L280 830" stroke="#b6837c" stroke-width="26.5" fill="none"/>
<circle cx="303.5" cy="821.3" r="1.5" fill="#3a2a28"/>
<!-- seat post & clamp -->
<path d="M449.2 1014 L475.6 1018 L454.5 1073 L429.8 1069.1 Z" fill="#1c1c1e"/>
<path d="M438.6 1033.9 L468.6 1040 L466 1058.6 L436 1052 Z" fill="#1f1f21"/>
<path d="M406.1 1083.2 L414 1065.6 L429.8 1069.1 L454.5 1072.6 L461.5 1079.7 L458 1090.2 L445.7 1099 L438.6 1106.1 L422.8 1100.8 Z" fill="#1d1d1f"/>
<!-- saddle -->
<path d="M377.9 997 Q380 988 387.6 986.4 L458 988.2 Q490 988 510.8 984.6 Q520 980 528.4 975 Q540 972.5 549.5 974.1 Q560 977 561.8 984.6 L564.5 1000.5 Q558 1006 546 1007.5 L475.6 1012.8 L422.8 1011 L387.6 1009.3 Q377 1006 377.9 997 Z" fill="#1c1c1e"/>
<path d="M390 988 Q398 982 412 984 L394 992 Z" fill="#c8c8c8"/>
<path d="M465 980 L503 976.7 L507.3 985 L468 988.2 Z" fill="#252527"/>
</g>

<!-- BIKE 5 : peach/black trike -->
<g id="bike5">
<!-- far right wheel -->
<g transform="rotate(10 1867.4 1194.3)">
<ellipse cx="1867.4" cy="1194.3" rx="56" ry="61" fill="#1b1c1e"/>
<ellipse cx="1861.2" cy="1194.7" rx="42.5" ry="48" fill="#e2c8b1"/>
<ellipse cx="1861.7" cy="1195.6" rx="33.5" ry="38.2" fill="#222426"/>
</g>
<!-- under rod -->
<path d="M1582 1106 L1612 1130 L1660 1172 L1654 1178 L1606 1138 L1578 1114 Z" fill="#1d1d1f"/>
<!-- junction & arm -->
<path d="M1664.6 1123.4 L1683.9 1120.8 L1722.6 1122.6 L1733.2 1127.8 L1756.1 1133.1 L1756.1 1147.2 L1768.4 1156 Q1776 1164 1786 1170.1 Q1798 1176 1812.4 1178.9 L1837 1182.4 L1859.9 1182.4 L1861.7 1214.1 L1837 1215.8 L1812.4 1212.3 Q1798 1208 1786 1200 L1764.9 1184.2 L1747.3 1173.6 L1740.2 1180.6 L1733.2 1164.8 L1715.6 1147.2 L1689.2 1138.4 L1662.8 1138.4 Z" fill="#1d1e20"/>
<ellipse cx="1741" cy="1134" rx="14" ry="7" transform="rotate(14 1741 1134)" fill="#101012"/>
<path d="M1838 1183 L1838.5 1215.5" stroke="#38383b" stroke-width="1.2" fill="none"/>
<!-- middle wheel -->
<g transform="rotate(8 1680 1212.3)">
<ellipse cx="1680" cy="1212.3" rx="56" ry="70" fill="#1b1c1e"/>
<ellipse cx="1671.2" cy="1215" rx="41" ry="55.8" fill="#e2c8b1"/>
<ellipse cx="1673.8" cy="1215.8" rx="32" ry="44.3" fill="#222426"/>
</g>
<!-- frame -->
<path d="M1538.6 1011.6 L1568.4 1018.2 L1565.9 1029 L1610 1062.7 L1678.6 1118.4 L1683.9 1120.8 L1664.6 1123.4 L1659.3 1143.7 L1610 1103.2 L1549.4 1062.1 L1527.8 1058.8 Z" fill="#e8ccb0"/>
<path d="M1538.6 1011.6 L1550 1014 L1539 1060.5 L1527.8 1058.8 Z" fill="#dbbc9e"/>
<path d="M1565.9 1029 L1610 1062.7 L1678.6 1118.4 L1675 1124 L1608 1069 L1562 1035 Z" fill="#f0d9c1"/>
<text class="btm" transform="translate(1564.5 1069.5) rotate(34) skewX(-10)" font-size="25" fill="#1b1b1d" stroke="#1b1b1d" stroke-width=".7" textLength="34.5" lengthAdjust="spacingAndGlyphs">BTM</text>
<!-- pedal mount -->
<path d="M1579.5 1114 Q1579.5 1107 1588 1108 L1604 1112 L1624 1108 L1625 1124 L1604 1130 L1588 1128 Q1579.5 1124 1579.5 1114 Z" fill="#1e1e20"/>
<!-- front wheel -->
<g transform="rotate(6 1519.5 1170.3)">
<ellipse cx="1519.5" cy="1170.3" rx="59" ry="76" fill="#1a1a1c"/>
<ellipse cx="1527" cy="1170" rx="47" ry="68" fill="none" stroke="#262628" stroke-width="1.2"/>
<ellipse cx="1510.8" cy="1168.7" rx="43.2" ry="59.2" fill="#e2c8b1"/>
<ellipse cx="1514.5" cy="1168.7" rx="34" ry="49" fill="#1d1d1f"/>
</g>
<!-- fender -->
<path d="M1502.2 1069.6 L1526.2 1067.1 L1529.4 1073 L1555.9 1082.9 Q1568 1088 1577.5 1094.5 L1582.4 1102 L1565.9 1102.8 L1546 1094.5 L1532.8 1082.9 L1526.2 1075.4 L1504.7 1072.9 Z" fill="#1c1c1e"/>
<path d="M1526.2 1057.5 L1552.7 1062.5 L1552 1076 L1525.5 1071.5 Z" fill="#1c1c1e"/>
<!-- fork -->
<path d="M1531 1077 Q1508 1088 1503 1122 L1495 1152" stroke="#1e1e20" stroke-width="15" fill="none" stroke-linecap="round"/>
<path d="M1489 1128 L1514 1134 L1507 1176 L1482 1170 Z" fill="#232325"/>
<!-- pedal -->
<path d="M1453.5 1168 L1470 1160 L1498 1160 L1514 1169 L1513 1182 L1490 1186 L1457 1183 Z" fill="#1c1c1e"/>
<!-- stem -->
<path d="M1565.9 913.1 L1585.8 916.4 L1580.8 936.3 L1583.3 952.8 L1580.8 969.4 L1575.9 989.3 L1568.4 1017.4 L1538.6 1010.8 L1546.1 985.9 L1551 962.8 L1556 942.9 L1562.6 928 Z" fill="#1c1c1e"/>
<circle cx="1555" cy="965.5" r="2.2" fill="#38383b"/>
<path d="M1548 980 Q1558 986 1568 980 L1569 968 L1574 966" stroke="#343437" stroke-width="1.2" fill="none"/>
<!-- handlebar -->
<path d="M1499 894.2 L1560 899.5" stroke="#b7623f" stroke-width="19.5" stroke-linecap="round" fill="none"/>
<path d="M1592 904 L1629.5 910.4" stroke="#b7623f" stroke-width="17.5" stroke-linecap="round" fill="none"/>
<path d="M1566 896 L1586 902.5" stroke="#1f1f21" stroke-width="21" stroke-linecap="round" fill="none"/>
<ellipse cx="1577" cy="899.5" rx="11" ry="5" transform="rotate(10 1577 899.5)" fill="none" stroke="#77777a" stroke-width=".8"/>
<text class="btm" transform="translate(1570 900) rotate(10)" font-size="7.5" fill="#a5a5a8">BTM</text>
<circle cx="1496.5" cy="893.8" r="1.2" fill="#3a1a0e"/>
<!-- seat post & clamp -->
<path d="M1685.7 1036 L1705 1039 L1685.7 1086 L1668.1 1082.1 Z" fill="#1b1b1d"/>
<path d="M1673.4 1053.9 L1701.5 1059 L1699 1075 L1671 1069 Z" fill="#1e1e20"/>
<path d="M1645.2 1090.9 L1653.1 1079.4 L1668.1 1082.1 L1685.7 1085.6 L1697.1 1089.1 L1696.2 1099.7 L1687.4 1103.2 L1676.9 1113.8 L1661 1110.2 L1650.5 1103.2 Z" fill="#1c1c1e"/>
<!-- saddle -->
<path d="M1633.8 1029.3 Q1636 1021 1641.7 1019.6 L1662.8 1015.2 L1715.6 1015.2 Q1726 1011 1733.2 1006.4 Q1742 1003 1750.8 1003.8 Q1760 1004 1768.4 1006.4 Q1776 1010 1777.2 1015.2 L1779.8 1029.3 Q1776 1033 1768.4 1034.6 L1742 1036.3 L1708.6 1039.8 L1680.4 1036.3 L1645.2 1033.7 Q1634 1033 1633.8 1029.3 Z" fill="#202124"/>
</g>

<!-- BIKE 6 : mint/black trike with push handle -->
<g id="bike6">
<!-- middle wheel -->
<g transform="rotate(8 999.4 1749)">
<ellipse cx="999.4" cy="1749" rx="46.7" ry="43" fill="#1a1a1c"/>
<ellipse cx="1005.6" cy="1747" rx="35.2" ry="32.5" fill="#aacfcb"/>
<ellipse cx="1006.5" cy="1746" rx="26.5" ry="24.5" fill="#1c1c1e"/>
</g>
<!-- right wheel -->
<g transform="rotate(6 1138.9 1757.6)">
<ellipse cx="1138.9" cy="1757.6" rx="54" ry="55.2" fill="#1b1c1e"/>
<ellipse cx="1142.4" cy="1756.3" rx="39.2" ry="40.7" fill="#aacfcb"/>
<ellipse cx="1142.9" cy="1757.2" rx="31.7" ry="32.8" fill="#1f2022"/>
</g>
<!-- rear pedal -->
<path d="M962 1712 L984 1722 L1002 1744 L1024 1750 L1022 1762 L998 1760 L976 1746 L958 1722 Z" fill="#1b1b1d"/>
<!-- push handle lower tube -->
<path d="M1035.5 1689.5 L1136.7 1500" stroke="#a7bab7" stroke-width="15" fill="none"/>
<path d="M1031 1687 L1132 1498" stroke="#c3d2d0" stroke-width="3.5" fill="none"/>
<path d="M1040.5 1692 L1141.5 1502.5" stroke="#8d9f9c" stroke-width="3" fill="none"/>
<!-- upper rod -->
<path d="M1147.7 1478 L1253.7 1286.3" stroke="#1b1b1d" stroke-width="9" fill="none"/>
<path d="M1142.7 1475.1 L1155.9 1478.4 L1154.3 1495 L1149.3 1511.6 L1139.4 1521.5 L1139.4 1504.9 L1127.8 1498.3 Z" fill="#1d1d1f"/>
<!-- grip -->
<path d="M1218 1279.7 L1246 1265.5" stroke="#1b1b1d" stroke-width="16.5" stroke-linecap="round" fill="none"/>
<path d="M1272 1263 L1319 1261.5" stroke="#1b1b1d" stroke-width="20" stroke-linecap="round" fill="none"/>
<path d="M1242 1262 L1272 1254 L1274 1272 L1262 1290 L1246 1288 Z" fill="#1f1f21"/>
<!-- junction & arm -->
<path d="M977.4 1686.8 L991.5 1685 L1023.2 1687.7 Q1034 1691 1040.8 1696.5 L1046.1 1707 L1054.9 1717.6 Q1064 1726 1072.5 1733.4 Q1080 1738 1090 1741 L1090 1773 Q1078 1770 1069 1765.1 L1049.6 1754.6 Q1040 1747 1030.2 1740.5 Q1018 1734 1005.6 1729.9 L979.2 1722.9 L959.8 1712.3 Z" fill="#1c1d1f"/>
<path d="M992 1694 Q1012 1690 1030 1698 L1040 1710 Q1056 1728 1090 1742 L1090 1758 Q1050 1744 1032 1726 Q1016 1714 994 1712 Z" fill="#242527"/>
<!-- frame -->
<path d="M819.7 1581.7 L846.1 1588.7 L843.4 1601.9 L900 1638.4 L976.3 1686.4 L977.4 1686.8 L961.6 1710.6 L959.8 1712.3 L900 1670.1 L833.8 1638.9 L803 1630.1 Z" fill="#c8deda"/>
<path d="M819.7 1581.7 L831 1584.7 L815.5 1633.7 L803 1630.1 Z" fill="#b3cdc9"/>
<path d="M843.4 1601.9 L900 1638.4 L976.3 1686.4 L973 1692 L898 1645 L840 1608 Z" fill="#d9eae7"/>
<text class="btm" transform="translate(858.5 1640.5) rotate(29) skewX(-10)" font-size="26" fill="#1b1b1d" stroke="#1b1b1d" stroke-width=".7" textLength="38.5" lengthAdjust="spacingAndGlyphs">BTM</text>
<!-- pedal mount, crank, pedal -->
<path d="M853 1676 Q853 1670 862 1671 L890 1676 L917 1680 L918 1692 L896 1694 L880 1722 L868 1722 L872 1692 L860 1688 Q853 1684 853 1676 Z" fill="#232325"/>
<path d="M896 1690 L908 1692 L906 1716 L894 1714 Z" fill="#1d1d1f"/>
<rect x="882" y="1711.9" width="50.5" height="13.2" rx="2" fill="#1c1c1e"/>
<path d="M834 1648 L900 1680" stroke="#2a2a2c" stroke-width="1" fill="none"/>
<!-- front wheel -->
<g transform="rotate(6 786.2 1740.4)">
<ellipse cx="786.2" cy="1740.4" rx="73" ry="76" fill="#1a1a1c"/>
<ellipse cx="790.6" cy="1741" rx="57.2" ry="58.5" fill="#aacfcb"/>
<ellipse cx="788" cy="1741.5" rx="45.8" ry="47" fill="#1c1c1e"/>
</g>
<circle cx="783" cy="1742.7" r="7" fill="#d5e4e2"/>
<!-- fender -->
<path d="M776.6 1640.6 L802.1 1638.9 L833.8 1647.7 Q842 1652 849.6 1660 L858.4 1670.6 L840.8 1667 L830.2 1656.5 L805.6 1645.9 L779.2 1644.2 Z" fill="#1c1c1e"/>
<path d="M802.1 1628 L833.8 1635 L833 1652 L801 1645 Z" fill="#1c1c1e"/>
<!-- fork -->
<path d="M790 1664 Q793 1650 806 1647 L810 1655 Q800 1657 798 1668 Z" fill="#1c1c1e"/>
<path d="M812.6 1651.2 L830.2 1654.7 Q830 1680 824.1 1704 L803.8 1700.5 Q810 1676 812.6 1651.2 Z" fill="#1d1d1f"/>
<path d="M803.8 1698 L824.6 1702 L816.2 1739.2 L812.6 1755 Q804 1762 795 1756.8 L788 1742.7 L798.6 1714.6 Z" fill="#232426"/>
<!-- stem -->
<path d="M847.8 1487.5 L866.3 1486.6 L861 1510.4 L862.8 1524.5 L858.4 1542.1 L854.9 1552.6 L846.1 1587.8 L819.7 1580.8 L826.7 1552.6 L830.2 1538.6 L835.5 1528 L840.8 1510.4 L847.8 1498.1 Z" fill="#1d1d1f"/>
<circle cx="852" cy="1540" r="2.3" fill="#3a3a3d"/>
<!-- handlebar -->
<path d="M806 1478.7 L892.5 1471.8" stroke="#1b1b1d" stroke-width="17" stroke-linecap="round" fill="none"/>
<!-- backrest -->
<path d="M1036 1470 Q1042 1466.5 1050 1466 L1081.4 1463.5 Q1091 1464 1093 1470.2 L1088 1501.6 L1081.3 1532.8 L1079.5 1555.7 Q1076 1563 1069 1564.5 L1054.9 1561 L1044.3 1585.6 L1023.2 1583.8 L1037.3 1555.7 L1026.7 1546.9 L1023.2 1524 L1026.7 1497.6 Q1029 1478 1036 1470 Z" fill="#2c2f33"/>
<path d="M1088 1496.7 L1100.6 1497 L1101 1510.5 L1086.6 1510 Z" fill="#232528"/>
<path d="M1023.2 1506.4 L984.5 1557.4" stroke="#1b1b1d" stroke-width="10" fill="none"/>
<path d="M1067.2 1502.9 L998.6 1562.7" stroke="#1b1b1d" stroke-width="10" fill="none"/>
<rect x="966" y="1556" width="32.6" height="24" rx="3" transform="rotate(-24 982 1568)" fill="#202123"/>
<!-- seat base -->
<path d="M922.9 1603.2 L928.2 1594.4 Q938 1590 952.8 1587.4 L995 1583.8 L1023.2 1583.8 L1044.3 1585.6 Q1054 1587 1056.6 1590.9 L1060.2 1603.2 Q1057 1608 1049.6 1610.2 L1005.6 1613.8 L970.4 1612 L935.2 1610.2 Q923 1608 922.9 1603.2 Z" fill="#1f2022"/>
<path d="M948 1591 Q960 1587 975 1587 L955 1594 Z" fill="#d5d8d8"/>
<!-- post & clamp -->
<path d="M977.4 1612 L993.3 1614 L979.2 1650 L965.1 1647.2 Z" fill="#1b1b1d"/>
<path d="M967.8 1624.3 L988 1628 L986 1642 L966 1638 Z" fill="#1e1e20"/>
<path d="M942.2 1657.8 L949.3 1646.3 L965.1 1647.2 L979.2 1649 L983.6 1656 L981 1663 L973.9 1666.6 L966.9 1675.4 L952.8 1670.1 Z" fill="#1c1c1e"/>
</g>

</svg>
</body>
</html>
